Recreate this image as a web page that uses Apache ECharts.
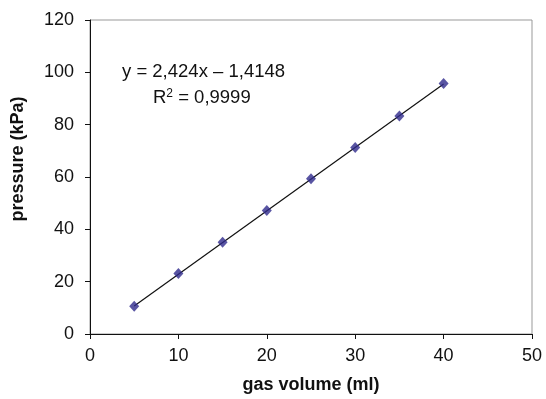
<!DOCTYPE html>
<html>
<head>
<meta charset="utf-8">
<script src="https://cdn.jsdelivr.net/npm/echarts@6/dist/echarts.min.js"></script>
<style>
  html, body { margin: 0; padding: 0; background: #fff; }
  #chart { width: 546px; height: 399px; }
</style>
</head>
<body>
<div id="chart"></div>
<script>
// measured points
const volumes = [5, 10, 15, 20, 25, 30, 35, 40];
const pressures = [10.6, 23.1, 35.1, 47.2, 59.3, 71.3, 83.3, 95.7];
// trend line ends (from the printed fit)
const trendX = [5, 40];
const trendY = [10.7, 95.5];
const xTicks = [0, 10, 20, 30, 40, 50];
const yTicks = [0, 20, 40, 60, 80, 100, 120];

const chart = echarts.init(document.getElementById('chart'), null, { renderer: 'canvas' });

const font = 'Liberation Sans, Arial, sans-serif';

chart.setOption({
  animation: false,
  grid: {
    left: 90, right: 14, top: 20, bottom: 63,
    show: true, borderColor: '#999', borderWidth: 1
  },
  xAxis: {
    type: 'value',
    min: xTicks[0], max: xTicks[xTicks.length - 1], interval: 10,
    name: 'gas volume (ml)',
    nameLocation: 'middle',
    nameGap: 42,
    nameTextStyle: { fontFamily: font, fontSize: 18, fontWeight: 'bold', color: '#111' },
    axisLine: { lineStyle: { color: '#111', width: 1 } },
    axisTick: { inside: false, length: 5, lineStyle: { color: '#111' } },
    axisLabel: { fontFamily: font, fontSize: 18, color: '#111', margin: 13 },
    splitLine: { show: false }
  },
  yAxis: {
    type: 'value',
    min: yTicks[0], max: yTicks[yTicks.length - 1], interval: 20,
    axisLine: { show: true, lineStyle: { color: '#111', width: 1 } },
    axisTick: { show: true, inside: false, length: 5, lineStyle: { color: '#111' } },
    axisLabel: { fontFamily: font, fontSize: 18, color: '#111', margin: 16 },
    splitLine: { show: false }
  },
  graphic: [
    {
      // y-axis title sits a bit above the middle, as in the original
      type: 'text', x: 18, y: 159, rotation: Math.PI / 2,
      style: {
        text: 'pressure (kPa)', font: 'bold 18px ' + font, fill: '#111',
        align: 'center', verticalAlign: 'middle'
      }
    },
    {
      type: 'text', left: 122, top: 62,
      style: { text: 'y = 2,424x – 1,4148', font: '18.5px ' + font, fill: '#111' }
    },
    {
      type: 'text', left: 153, top: 88,
      style: {
        text: 'R{sup|2} = 0,9999',
        font: '18.5px ' + font, fill: '#111',
        rich: { sup: { fontSize: 12, fontFamily: font, verticalAlign: 'top', padding: [0, 0, 8, 0] } }
      }
    }
  ],
  series: [
    {
      type: 'line',
      data: trendX.map((x, i) => [x, trendY[i]]),
      symbol: 'none',
      lineStyle: { color: '#111', width: 1.2 },
      z: 2
    },
    {
      type: 'scatter',
      data: volumes.map((x, i) => [x, pressures[i]]),
      symbol: 'diamond',
      symbolSize: [10, 11],
      itemStyle: { color: '#2f2a8c' },
      z: 3
    }
  ]
});
</script>
</body>
</html>
